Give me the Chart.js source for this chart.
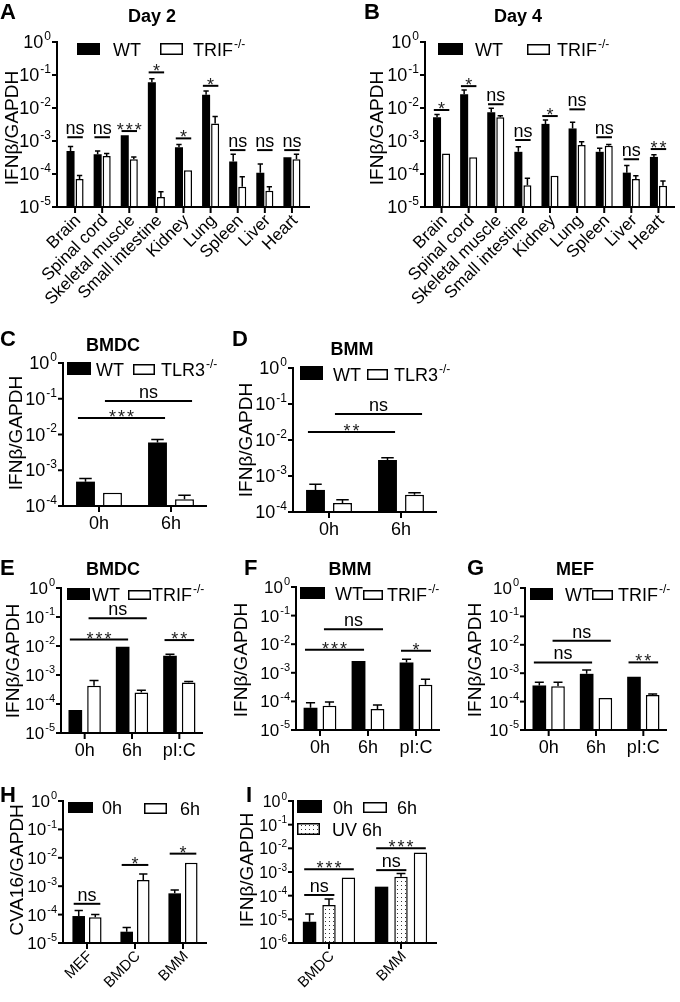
<!DOCTYPE html>
<html>
<head>
<meta charset="utf-8">
<title>IFNβ / CVA16 expression</title>
<script src="https://cdn.jsdelivr.net/npm/chart.js@4.4.1/dist/chart.umd.min.js"></script>
<style>
  html, body { margin: 0; padding: 0; background: #fff; }
  #fig { position: relative; width: 680px; height: 1002px; overflow: hidden; }
  #fig canvas { position: absolute; left: 0; top: 0; }
</style>
</head>
<body>
<div id="fig"></div>
<script>
// ---- categories ----
const tissues = ['Brain', 'Spinal cord', 'Skeletal muscle', 'Small intestine', 'Kidney', 'Lung', 'Spleen', 'Liver', 'Heart'];
const times2 = ['0h', '6h'];
const times3 = ['0h', '6h', 'pI:C'];
const cellsH = ['MEF', 'BMDC', 'BMM'];
const cellsI = ['BMDC', 'BMM'];

// ---- A: day 2 ----
const day2WT = [5e-4, 4e-4, 1.5e-3, 6e-2, 6.5e-4, 2.5e-2, 2.4e-4, 1.1e-4, 3.2e-4];
const day2WTerr = [6.8e-4, 5e-4, 1.6e-3, 7.7e-2, 7.9e-4, 3.3e-2, 4e-4, 2e-4, 3.4e-4];
const day2TRIF = [7e-5, 3.5e-4, 2.8e-4, 2e-5, 1.3e-4, 3.4e-3, 4.1e-5, 3.1e-5, 2.8e-4];
const day2TRIFerr = [9e-5, 4.2e-4, 3.3e-4, 2.9e-5, 1.35e-4, 5.5e-3, 8.3e-5, 4.1e-5, 4e-4];
const day2Stars = ['ns', 'ns', '***', '*', '*', '*', 'ns', 'ns', 'ns'];
const day2StarY = [1.3e-3, 1.3e-3, 2e-3, 0.12, 1.2e-3, 4.7e-2, 5.3e-4, 5.3e-4, 5.3e-4];

// ---- B: day 4 ----
const day4WT = [5.2e-3, 2.6e-2, 7.4e-3, 4.7e-4, 3.3e-3, 2.4e-3, 4.7e-4, 1.1e-4, 3.3e-4];
const day4WTerr = [6.4e-3, 3.5e-2, 9.8e-3, 6.7e-4, 4.3e-3, 3.7e-3, 6e-4, 1.8e-4, 3.8e-4];
const day4TRIF = [4.2e-4, 3.2e-4, 5.2e-3, 4.6e-5, 8.9e-5, 7.6e-4, 7.2e-4, 7e-5, 4.4e-5];
const day4TRIFerr = [4.4e-4, 3.4e-4, 5.8e-3, 7.4e-5, 9e-5, 9.5e-4, 7.9e-4, 8.9e-5, 6.1e-5];
const day4Stars = ['*', '*', 'ns', 'ns', '*', 'ns', 'ns', 'ns', '**'];
const day4StarY = [8.7e-3, 4.6e-2, 1.3e-2, 1.07e-3, 5.7e-3, 9.1e-3, 1.3e-3, 2.8e-4, 5.7e-4];

// ---- C: BMDC, TLR3 ----
const cWT = [4.8e-4, 6e-3], cWTerr = [5.9e-4, 7.3e-3];
const cTLR3 = [2.35e-4, 1.55e-4], cTLR3err = [2.45e-4, 2e-4];
// ---- D: BMM, TLR3 ----
const dWT = [4.1e-4, 2.8e-3], dWTerr = [5.9e-4, 3.2e-3];
const dTLR3 = [1.78e-4, 3e-4], dTLR3err = [2.2e-4, 3.4e-4];
// ---- E: BMDC, TRIF ----
const eWT = [6.2e-5, 9.5e-3, 4.6e-3], eWTerr = [6.5e-5, 1e-2, 5.2e-3];
const eTRIF = [4.3e-4, 2.5e-4, 5.5e-4], eTRIFerr = [6.5e-4, 3e-4, 6e-4];
// ---- F: BMM, TRIF ----
const fWT = [6e-5, 2.6e-3, 2.3e-3], fWTerr = [9e-5, 2.8e-3, 3e-3];
const fTRIF = [7e-5, 5.4e-5, 3.8e-4], fTRIFerr = [9.5e-5, 7.5e-5, 6e-4];
// ---- G: MEF, TRIF ----
const gWT = [3.7e-4, 9.5e-4, 7.5e-4], gWTerr = [4.8e-4, 1.3e-3, 8e-4];
const gTRIF = [3.5e-4, 1.35e-4, 1.7e-4], gTRIFerr = [4.8e-4, 1.45e-4, 1.85e-4];
// ---- H: CVA16 ----
const h0 = [8.9e-5, 2.5e-5, 5.6e-4], h0err = [1.4e-4, 3.5e-5, 7.3e-4];
const h6 = [8e-5, 1.65e-3, 6.7e-3], h6err = [1e-4, 2.7e-3, 7.2e-3];
// ---- I: UV ----
const i0 = [7.9e-6, 2.4e-4], i0err = [1.66e-5, 2.5e-4];
const iUV = [4e-5, 6.3e-4], iUVerr = [7.2e-5, 8.7e-4];
const i6 = [5.9e-4, 6.7e-3], i6err = [6.3e-4, 7e-3];

// brackets: [cat0, set0, cat1, set1, height, text]
const pairSig = (stars, ys) => stars.map((t, i) => [i, 0, i, 1, ys[i], t]);
const cSig = [[0, 0, 1, 0, 2.9e-2, '***'], [0, 1, 1, 1, 8.7e-2, 'ns']];
const dSig = [[0, 0, 1, 0, 1.66e-2, '**'], [0, 1, 1, 1, 5.3e-2, 'ns']];
const eSig = [[0, 0, 1, 0, 1.66e-2, '***'], [0, 1, 1, 1, 9e-2, 'ns'], [2, 0, 2, 1, 1.6e-2, '**']];
const fSig = [[0, 0, 1, 0, 6.4e-3, '***'], [0, 1, 1, 1, 3.3e-2, 'ns'], [2, 0, 2, 1, 5.9e-3, '*']];
const gSig = [[0, 0, 1, 0, 2.4e-3, 'ns'], [0, 1, 1, 1, 1.4e-2, 'ns'], [2, 0, 2, 1, 2.4e-3, '**']];
const hSig = [[0, 0, 0, 1, 2.4e-4, 'ns'], [1, 0, 1, 1, 5.6e-3, '*'], [2, 0, 2, 1, 1.4e-2, '*']];
const iSig = [[0, 0, 0, 1, 1.07e-4, 'ns'], [0, 0, 0, 2, 1.3e-3, '***'], [1, 0, 1, 1, 1.2e-3, 'ns'], [1, 0, 1, 2, 1e-2, '***']];

const FONT = '"Liberation Sans", Arial, Helvetica, sans-serif';
const W = 680, H = 1002;
const IFN = 'IFNβ/GAPDH';

// panel layout: box = [axisLeft, axisRight, axisTop, axisBottom]
const panels = [
  { id: 'A', labels: tissues, data: [day2WT, day2TRIF], err: [day2WTerr, day2TRIFerr], kinds: ['solid', 'open'],
    sig: pairSig(day2Stars, day2StarY), box: [57, 310, 42, 207], pad: 4.5, exp: [-5, 0], bar: [0.667, 0.889],
    letter: ['A', 0, 19], title: ['Day 2', 152, 17], ytitle: [IFN, 13, 128], tick: 18, rotate: 17,
    legend: [['solid', 77, 43, 23, 12, 'WT', '', 113], ['open', 160, 43, 23, 12, 'TRIF', '-/-', 193]] },
  { id: 'B', labels: tissues, data: [day4WT, day4TRIF], err: [day4WTerr, day4TRIFerr], kinds: ['solid', 'open'],
    sig: pairSig(day4Stars, day4StarY), box: [425, 675, 42, 207], pad: 3, exp: [-5, 0], bar: [0.667, 0.889],
    letter: ['B', 364, 19], title: ['Day 4', 518, 17], ytitle: [IFN, 378, 128], tick: 18, rotate: 17,
    legend: [['solid', 438, 43, 25, 12, 'WT', '', 475], ['open', 527, 44, 23, 11, 'TRIF', '-/-', 557]] },
  { id: 'C', labels: times2, data: [cWT, cTLR3], err: [cWTerr, cTLR3err], kinds: ['solid', 'open'],
    sig: cSig, box: [63, 207, 363, 506], pad: 0, exp: [-4, 0], bar: [0.75, 0.70],
    letter: ['C', 0, 346], title: ['BMDC', 113, 346], ytitle: [IFN, 17, 433], tick: 18, xfont: 18,
    legend: [['solid', 67, 362, 24, 13, 'WT', '', 96], ['open', 133, 364, 22, 11, 'TLR3', '-/-', 161]] },
  { id: 'D', labels: times2, data: [dWT, dTLR3], err: [dWTerr, dTLR3err], kinds: ['solid', 'open'],
    sig: dSig, box: [293, 437, 368, 512], pad: 0, exp: [-4, 0], bar: [0.75, 0.70],
    letter: ['D', 232, 346], title: ['BMM', 352, 350], ytitle: [IFN, 247, 440], tick: 18, xfont: 18,
    legend: [['solid', 300, 366, 23, 14, 'WT', '', 333], ['open', 367, 369, 21, 11, 'TLR3', '-/-', 394]] },
  { id: 'E', labels: times3, data: [eWT, eTRIF], err: [eWTerr, eTRIFerr], kinds: ['solid', 'open'],
    sig: eSig, box: [61, 203, 588, 733], pad: 0, exp: [-5, 0], bar: [0.79, 0.73],
    letter: ['E', 0, 575], title: ['BMDC', 113, 570], ytitle: [IFN, 14, 661], tick: 17, xfont: 18,
    legend: [['solid', 67, 588, 23, 12, 'WT', '', 92], ['open', 128, 590, 23, 10, 'TRIF', '-/-', 152]] },
  { id: 'F', labels: times3, data: [fWT, fTRIF], err: [fWTerr, fTRIFerr], kinds: ['solid', 'open'],
    sig: fSig, box: [296, 440, 587, 730], pad: 0, exp: [-5, 0], bar: [0.79, 0.73],
    letter: ['F', 244, 575], title: ['BMM', 350, 570], ytitle: [IFN, 242, 660], tick: 17, xfont: 18,
    legend: [['solid', 300, 587, 25, 12, 'WT', '', 335], ['open', 363, 590, 20, 10, 'TRIF', '-/-', 387]] },
  { id: 'G', labels: times3, data: [gWT, gTRIF], err: [gWTerr, gTRIFerr], kinds: ['solid', 'open'],
    sig: gSig, box: [525, 667, 588, 730], pad: 0, exp: [-5, 0], bar: [0.79, 0.73],
    letter: ['G', 467, 575], title: ['MEF', 575, 570], ytitle: [IFN, 476, 660], tick: 17, xfont: 18,
    legend: [['solid', 530, 588, 23, 12, 'WT', '', 565], ['open', 592, 590, 21, 10, 'TRIF', '-/-', 618]] },
  { id: 'H', labels: cellsH, data: [h0, h6], err: [h0err, h6err], kinds: ['solid', 'open'],
    sig: hSig, box: [63, 207, 801, 943], pad: 0, exp: [-5, 0], bar: [0.69, 0.76],
    letter: ['H', 0, 802], title: null, ytitle: ['CVA16/GAPDH', 18, 870], tick: 17, rotate: 15,
    legend: [['solid', 68, 802, 25, 11, '0h', '', 102], ['open', 144, 803, 23, 11, '6h', '', 180]] },
  { id: 'I', labels: cellsI, data: [i0, iUV, i6], err: [i0err, iUVerr, i6err], kinds: ['solid', 'dots', 'open'],
    sig: iSig, box: [293, 437, 801, 943], pad: 0, exp: [-6, 0], bar: [0.81, 0.69],
    letter: ['I', 246, 802], title: null, ytitle: [IFN, 248, 870], tick: 16, rotate: 15,
    legend: [['solid', 297, 800, 25, 13, '0h', '', 333], ['open', 363, 802, 24, 11, '6h', '', 397],
             ['dots', 297, 823, 23, 12, 'UV 6h', '', 332]] }
];

function dotPattern(ctx) {
  const c = document.createElement('canvas');
  c.width = 4; c.height = 4;
  const g = c.getContext('2d');
  g.fillStyle = '#fff'; g.fillRect(0, 0, 4, 4);
  g.fillStyle = '#333'; g.fillRect(1, 1, 1, 1);
  return ctx.createPattern(c, 'repeat');
}

// text with a raised exponent; x is the left or right end
function supText(ctx, x, y, base, sup, size, align) {
  const small = Math.round(size * 0.64);
  ctx.font = size + 'px ' + FONT;
  const w1 = ctx.measureText(base).width;
  ctx.font = small + 'px ' + FONT;
  const w2 = sup ? ctx.measureText(sup).width + 1 : 0;
  const x0 = align === 'right' ? x - w1 - w2 : x;
  ctx.textAlign = 'left';
  ctx.textBaseline = 'alphabetic';
  ctx.font = size + 'px ' + FONT;
  ctx.fillText(base, x0, y);
  if (sup) {
    ctx.font = small + 'px ' + FONT;
    ctx.fillText(sup, x0 + w1 + 1, y - size * 0.45);
  }
}

function figurePlugin(s, pattern) {
  return {
    id: 'figure' + s.id,
    afterDatasetsDraw(chart) {
      // error bars (upper half only)
      const ctx = chart.ctx, ys = chart.scales.y;
      ctx.save();
      ctx.strokeStyle = '#000';
      ctx.lineWidth = 1.5;
      s.err.forEach((errs, d) => {
        chart.getDatasetMeta(d).data.forEach((bar, i) => {
          const top = ys.getPixelForValue(errs[i]);
          if (top > bar.y - 1) return;
          const cap = bar.width * 0.33;
          ctx.beginPath();
          ctx.moveTo(bar.x, bar.y);
          ctx.lineTo(bar.x, top);
          ctx.moveTo(bar.x - cap, top);
          ctx.lineTo(bar.x + cap, top);
          ctx.stroke();
        });
      });
      ctx.restore();
    },
    afterDraw(chart) {
      const ctx = chart.ctx, xs = chart.scales.x, ys = chart.scales.y;
      const L = s.box[0], R = s.box[1];
      const T = ys.getPixelForValue(Math.pow(10, s.exp[1]));
      const B = ys.getPixelForValue(Math.pow(10, s.exp[0]));
      ctx.save();
      ctx.strokeStyle = '#000';
      ctx.fillStyle = '#000';
      ctx.lineWidth = 2;
      ctx.beginPath();
      ctx.moveTo(L, T - 1);
      ctx.lineTo(L, B);
      ctx.lineTo(R, B);
      ctx.stroke();

      // y ticks 10^n
      for (let e = s.exp[0]; e <= s.exp[1]; e++) {
        const py = ys.getPixelForValue(Math.pow(10, e));
        ctx.beginPath();
        ctx.moveTo(L - 5, py);
        ctx.lineTo(L, py);
        ctx.stroke();
        supText(ctx, L - 6, py + 6, '10', e === 0 ? '0' : '-' + (-e), s.tick, 'right');
      }

      // x ticks and labels
      chart.data.labels.forEach((lab, i) => {
        const px = xs.getPixelForValue(i);
        ctx.beginPath();
        ctx.moveTo(px, B);
        ctx.lineTo(px, B + 6);
        ctx.stroke();
        if (s.rotate) {
          ctx.save();
          ctx.translate(px + 3, B + 11);
          ctx.rotate(-Math.PI / 4);
          ctx.font = s.rotate + 'px ' + FONT;
          ctx.textAlign = 'right';
          ctx.textBaseline = 'middle';
          ctx.fillText(lab, 0, 0);
          ctx.restore();
        } else {
          ctx.font = s.xfont + 'px ' + FONT;
          ctx.textAlign = 'center';
          ctx.textBaseline = 'top';
          ctx.fillText(lab, px, B + 9);
        }
      });

      // significance brackets
      s.sig.forEach(([c0, d0, c1, d1, v, txt]) => {
        const b0 = chart.getDatasetMeta(d0).data[c0];
        const b1 = chart.getDatasetMeta(d1).data[c1];
        const ext = b0.width * 0.4;
        const x0 = b0.x - ext, x1 = b1.x + ext;
        const py = ys.getPixelForValue(v);
        ctx.lineWidth = 2;
        ctx.beginPath();
        ctx.moveTo(x0, py);
        ctx.lineTo(x1, py);
        ctx.stroke();
        ctx.textAlign = 'center';
        ctx.textBaseline = 'alphabetic';
        if (txt === 'ns') {
          ctx.font = '18px ' + FONT;
          ctx.fillStyle = '#000';
          ctx.fillText(txt, (x0 + x1) / 2, py - 3);
        } else {
          ctx.font = '18px ' + FONT;
          ctx.fillStyle = '#222';
          ctx.letterSpacing = '2px';
          ctx.fillText(txt, (x0 + x1) / 2 + 1, py + 5);
          ctx.letterSpacing = '0px';
          ctx.fillStyle = '#000';
        }
      });

      // legend
      s.legend.forEach(([kind, x, y, w, h, text, sup, tx]) => {
        if (kind === 'solid') {
          ctx.fillStyle = '#000';
          ctx.fillRect(x, y, w, h);
        } else {
          ctx.fillStyle = kind === 'dots' ? pattern : '#fff';
          ctx.fillRect(x, y, w, h);
          ctx.lineWidth = 1.5;
          ctx.strokeRect(x + 0.75, y + 0.75, w - 1.5, h - 1.5);
        }
        ctx.fillStyle = '#000';
        supText(ctx, tx, y + h + 1, text, sup, 18, 'left');
      });

      // panel letter, title, y title
      ctx.textBaseline = 'alphabetic';
      ctx.textAlign = 'left';
      ctx.font = 'bold 22px ' + FONT;
      ctx.fillText(s.letter[0], s.letter[1], s.letter[2]);
      if (s.title) {
        ctx.font = 'bold 18px ' + FONT;
        ctx.textAlign = 'center';
        ctx.textBaseline = 'middle';
        ctx.fillText(s.title[0], s.title[1], s.title[2]);
      }
      ctx.save();
      ctx.translate(s.ytitle[1], s.ytitle[2]);
      ctx.rotate(-Math.PI / 2);
      ctx.font = '19px ' + FONT;
      ctx.textAlign = 'center';
      ctx.textBaseline = 'middle';
      ctx.fillText(s.ytitle[0], 0, 0);
      ctx.restore();
      ctx.restore();
    }
  };
}

const fig = document.getElementById('fig');
panels.forEach(s => {
  const canvas = document.createElement('canvas');
  canvas.width = W;
  canvas.height = H;
  canvas.style.width = W + 'px';
  canvas.style.height = H + 'px';
  fig.appendChild(canvas);
  const ctx = canvas.getContext('2d');
  const pattern = dotPattern(ctx);
  const fills = { solid: '#000', open: '#fff', dots: pattern };

  new Chart(ctx, {
    type: 'bar',
    data: {
      labels: s.labels,
      datasets: s.data.map((vals, d) => ({
        data: vals,
        backgroundColor: fills[s.kinds[d]],
        borderColor: '#000',
        borderWidth: s.kinds[d] === 'solid' ? 0 : 1.5,
        borderSkipped: 'start',
        categoryPercentage: s.bar[0],
        barPercentage: s.bar[1]
      }))
    },
    options: {
      responsive: false,
      animation: false,
      devicePixelRatio: 1,
      events: [],
      layout: {
        padding: {
          left: s.box[0] + s.pad,
          right: W - (s.box[1] - s.pad),
          top: s.box[2],
          bottom: H - s.box[3]
        }
      },
      plugins: { legend: { display: false }, tooltip: { enabled: false } },
      scales: {
        x: { type: 'category', display: false, offset: true },
        y: { type: 'logarithmic', display: false, min: Math.pow(10, s.exp[0]), max: Math.pow(10, s.exp[1]) }
      }
    },
    plugins: [figurePlugin(s, pattern)]
  });
});
</script>
</body>
</html>
